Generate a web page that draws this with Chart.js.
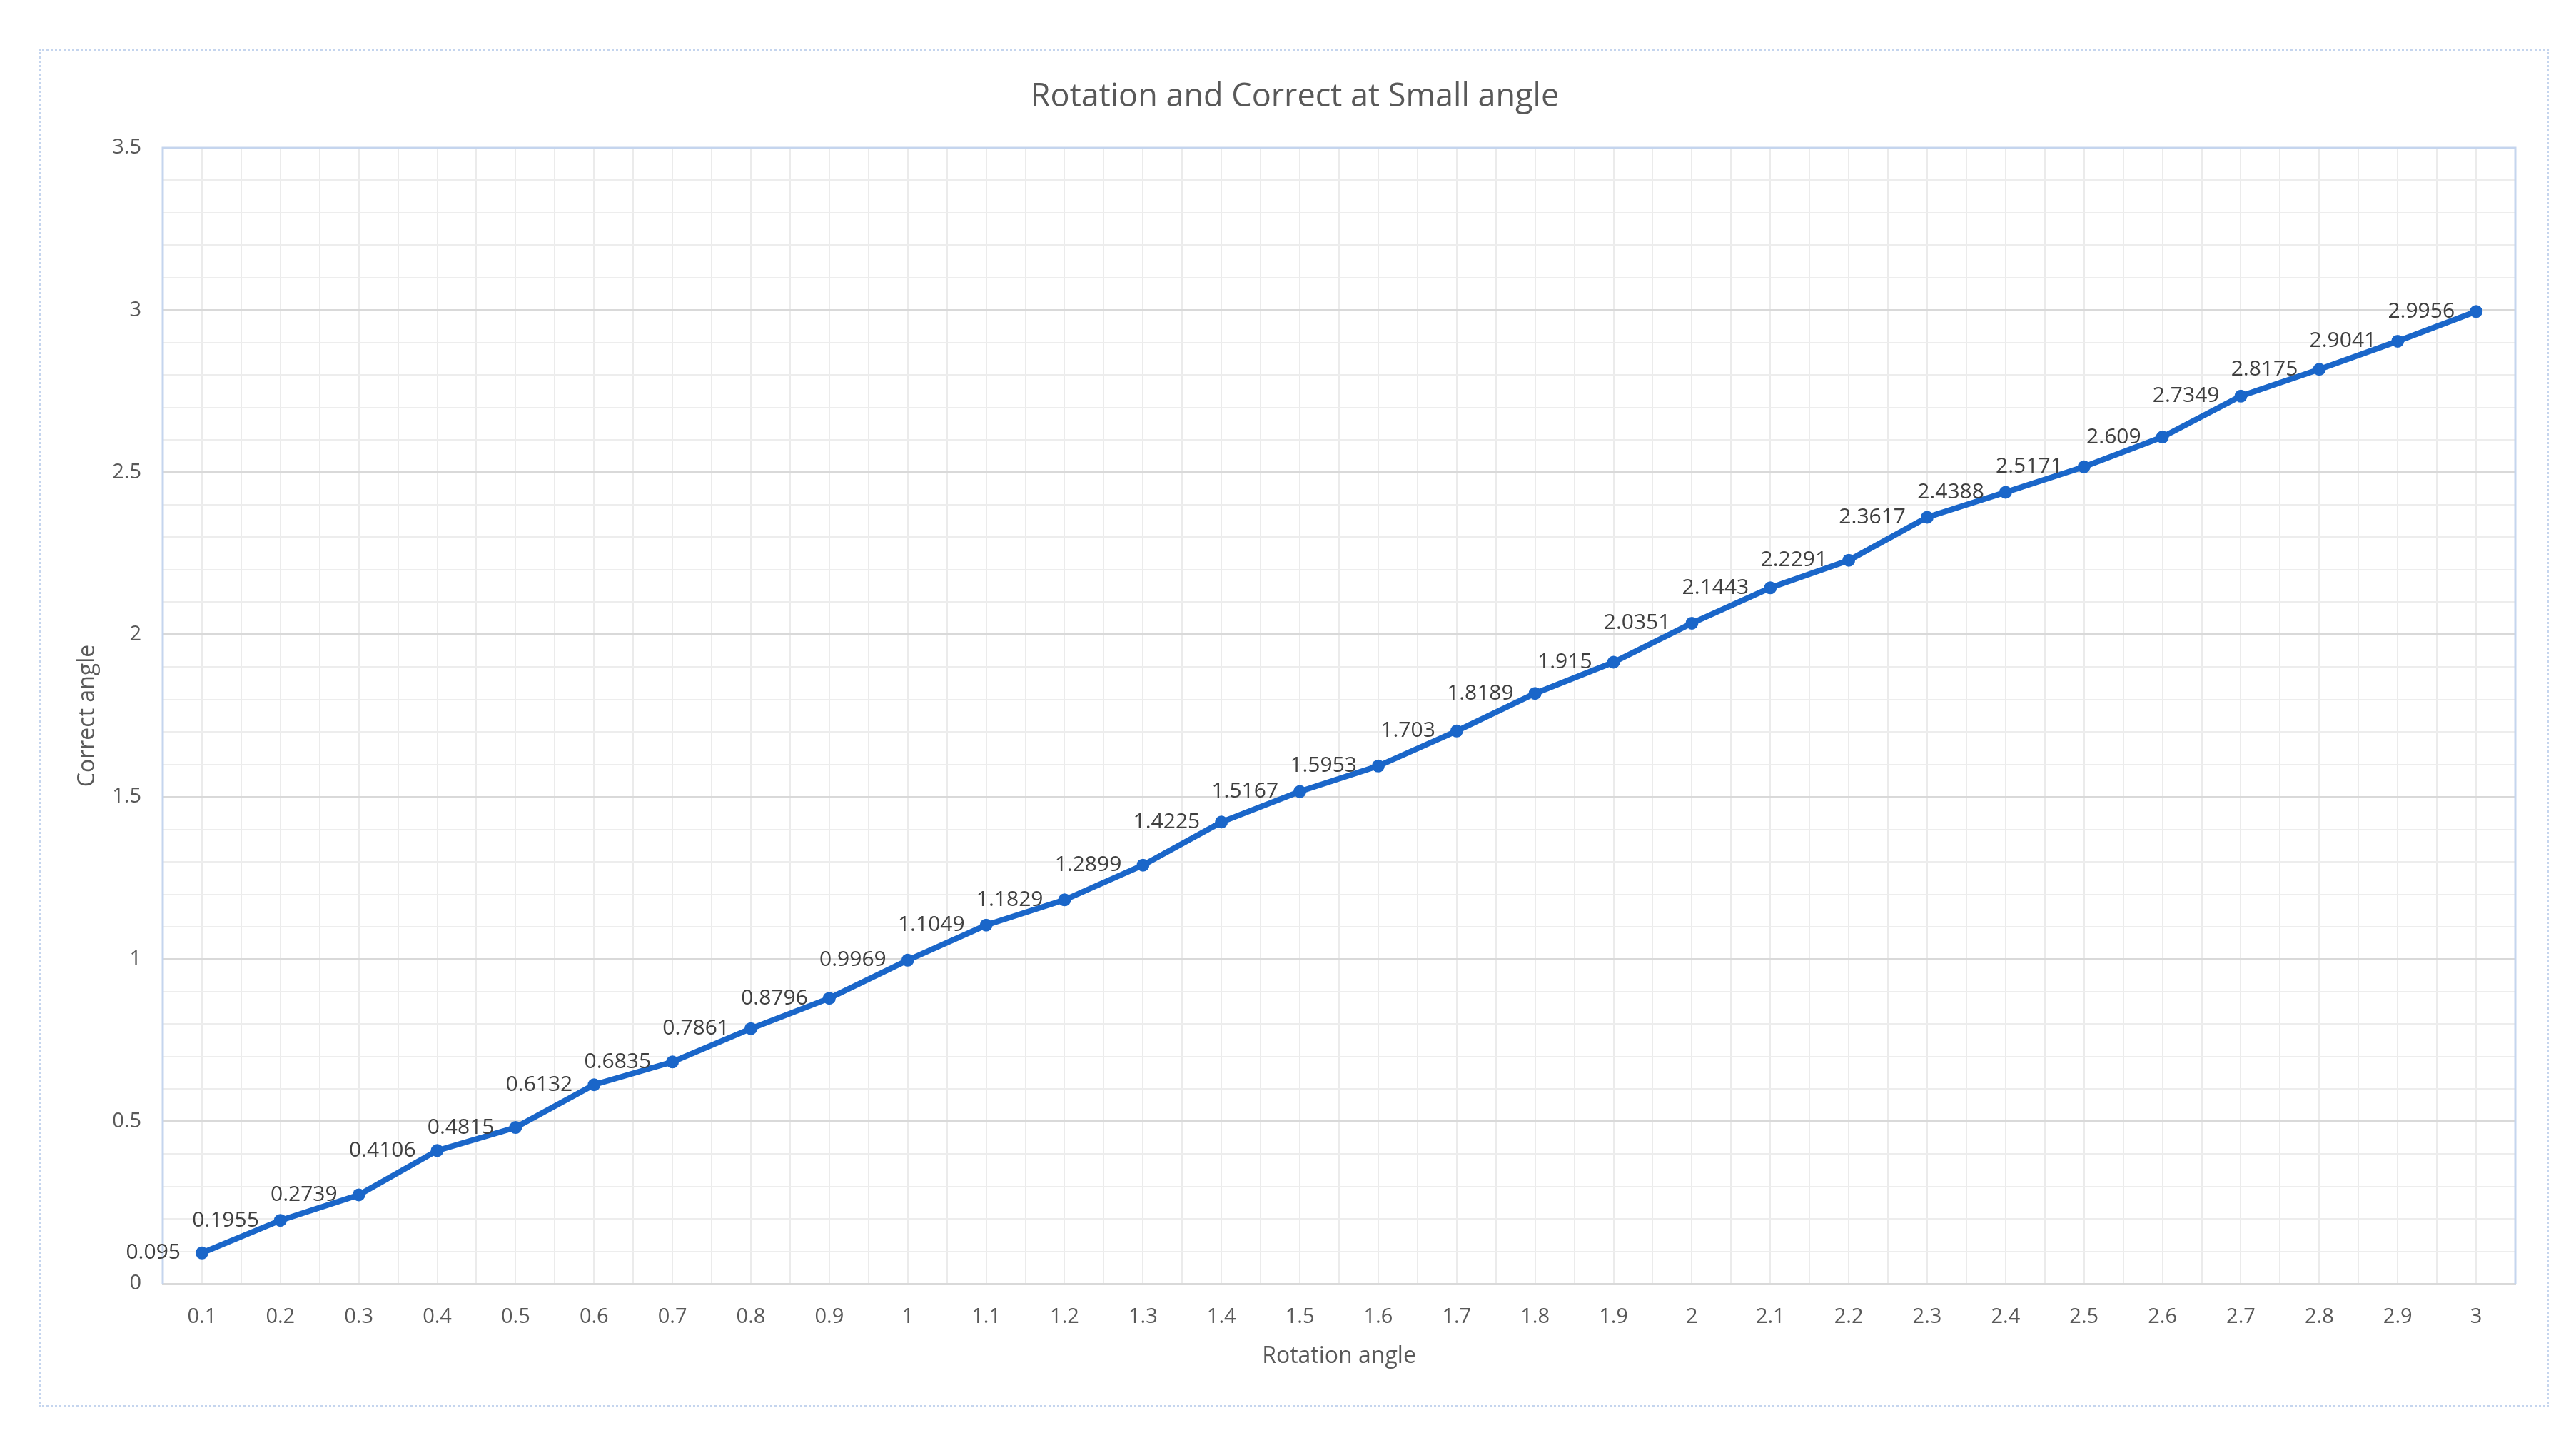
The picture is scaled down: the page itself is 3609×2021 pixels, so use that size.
<!DOCTYPE html>
<html>
<head>
<meta charset="utf-8">
<script src="https://cdn.jsdelivr.net/npm/chart.js@4.4.1/dist/chart.umd.min.js"></script>
<style>
  html, body { margin: 0; padding: 0; background: #fff; }
  #wrap { position: relative; width: 3609px; height: 2021px; }
  #frame { position: absolute; left: 54px; top: 68px; width: 3511px; height: 1897px; border: 3px dotted #c5d5ee; }
  canvas { position: absolute; left: 0; top: 0; }
</style>
</head>
<body>
<div id="wrap">
  <div id="frame"></div>
  <canvas id="chart" width="3609" height="2021"></canvas>
</div>
<script>
// rotation angle (x) and measured correct angle (y)
const rotationAngle = [0.1, 0.2, 0.3, 0.4, 0.5, 0.6, 0.7, 0.8, 0.9, 1, 1.1, 1.2, 1.3, 1.4, 1.5,
                       1.6, 1.7, 1.8, 1.9, 2, 2.1, 2.2, 2.3, 2.4, 2.5, 2.6, 2.7, 2.8, 2.9, 3];
const correctAngle = [0.095, 0.1955, 0.2739, 0.4106, 0.4815, 0.6132, 0.6835, 0.7861, 0.8796, 0.9969,
                      1.1049, 1.1829, 1.2899, 1.4225, 1.5167, 1.5953, 1.703, 1.8189, 1.915, 2.0351,
                      2.1443, 2.2291, 2.3617, 2.4388, 2.5171, 2.609, 2.7349, 2.8175, 2.9041, 2.9956];
const yTicks = [0, 0.5, 1, 1.5, 2, 2.5, 3, 3.5];

const lineBlue = '#1a66c9';
const textGrey = '#595959';
const numFont = 'Open Sans';
const txtFont = '"Open Sans", sans-serif';

const near = (a, b) => Math.abs(a - b) < 1e-6;

// value labels to the left of each point
const pointLabels = {
  id: 'pointLabels',
  afterDatasetsDraw(chart) {
    const ctx = chart.ctx;
    const meta = chart.getDatasetMeta(0);
    ctx.save();
    ctx.font = '30px "Open Sans"';
    ctx.fillStyle = '#404040';
    ctx.textAlign = 'right';
    ctx.textBaseline = 'middle';
    meta.data.forEach((pt, i) => {
      ctx.fillText(String(correctAngle[i]), pt.x - 30, pt.y);
    });
    ctx.restore();
  }
};

// light blue outline on top/left/right of plot area
const plotOutline = {
  id: 'plotOutline',
  beforeDatasetsDraw(chart) {
    const { ctx, chartArea: a } = chart;
    ctx.save();
    ctx.strokeStyle = '#c5d5ee';
    ctx.lineWidth = 3;
    ctx.beginPath();
    ctx.moveTo(a.left, a.bottom);
    ctx.lineTo(a.left, a.top);
    ctx.lineTo(a.right, a.top);
    ctx.lineTo(a.right, a.bottom);
    ctx.stroke();
    ctx.restore();
  }
};

new Chart(document.getElementById('chart'), {
  type: 'line',
  data: {
    datasets: [{
      label: 'Correct angle',
      data: rotationAngle.map((x, i) => ({ x: x, y: correctAngle[i] })),
      borderColor: lineBlue,
      backgroundColor: lineBlue,
      borderWidth: 8,
      pointRadius: 9,
      pointBorderWidth: 0,
      tension: 0
    }]
  },
  options: {
    responsive: false,
    animation: false,
    devicePixelRatio: 1,
    layout: { padding: { left: 104, right: 85, top: 0, bottom: 102 } },
    plugins: {
      legend: { display: false },
      tooltip: { enabled: false },
      title: {
        display: true,
        text: 'Rotation and Correct at Small angle',
        color: textGrey,
        font: { family: txtFont, size: 45, weight: 'normal' },
        padding: { top: 109, bottom: 44 }
      }
    },
    scales: {
      x: {
        type: 'linear',
        min: 0.05,
        max: 3.05,
        ticks: {
          stepSize: 0.05,
          autoSkip: false,
          maxRotation: 0,
          padding: 29,
          color: textGrey,
          font: { family: numFont, size: 29 },
          callback: v => {
            const i = rotationAngle.findIndex(t => near(t, v));
            return i >= 0 ? String(rotationAngle[i]) : '';
          }
        },
        grid: { drawTicks: false, color: '#ebebeb', lineWidth: 2 },
        border: { color: '#d9d9d9', width: 3 },
        title: {
          display: true,
          text: 'Rotation angle',
          color: textGrey,
          font: { family: txtFont, size: 32 },
          padding: 0
        },
        afterFit: s => { s.height = 121; }
      },
      y: {
        type: 'linear',
        min: 0,
        max: 3.5,
        ticks: {
          stepSize: 0.1,
          autoSkip: false,
          padding: 30,
          color: textGrey,
          font: { family: numFont, size: 29 },
          callback: v => yTicks.some(t => near(t, v)) ? String(+v.toFixed(1)) : ''
        },
        grid: {
          drawTicks: false,
          color: c => yTicks.some(t => near(t, c.tick.value)) ? '#d9d9d9' : '#ededed',
          lineWidth: c => yTicks.some(t => near(t, c.tick.value)) ? 3 : 2
        },
        border: { display: false },
        title: {
          display: true,
          text: 'Correct angle',
          color: textGrey,
          font: { family: txtFont, size: 32 },
          padding: 0
        },
        afterFit: s => { s.width = 124; }
      }
    }
  },
  plugins: [plotOutline, pointLabels]
});
</script>
</body>
</html>
